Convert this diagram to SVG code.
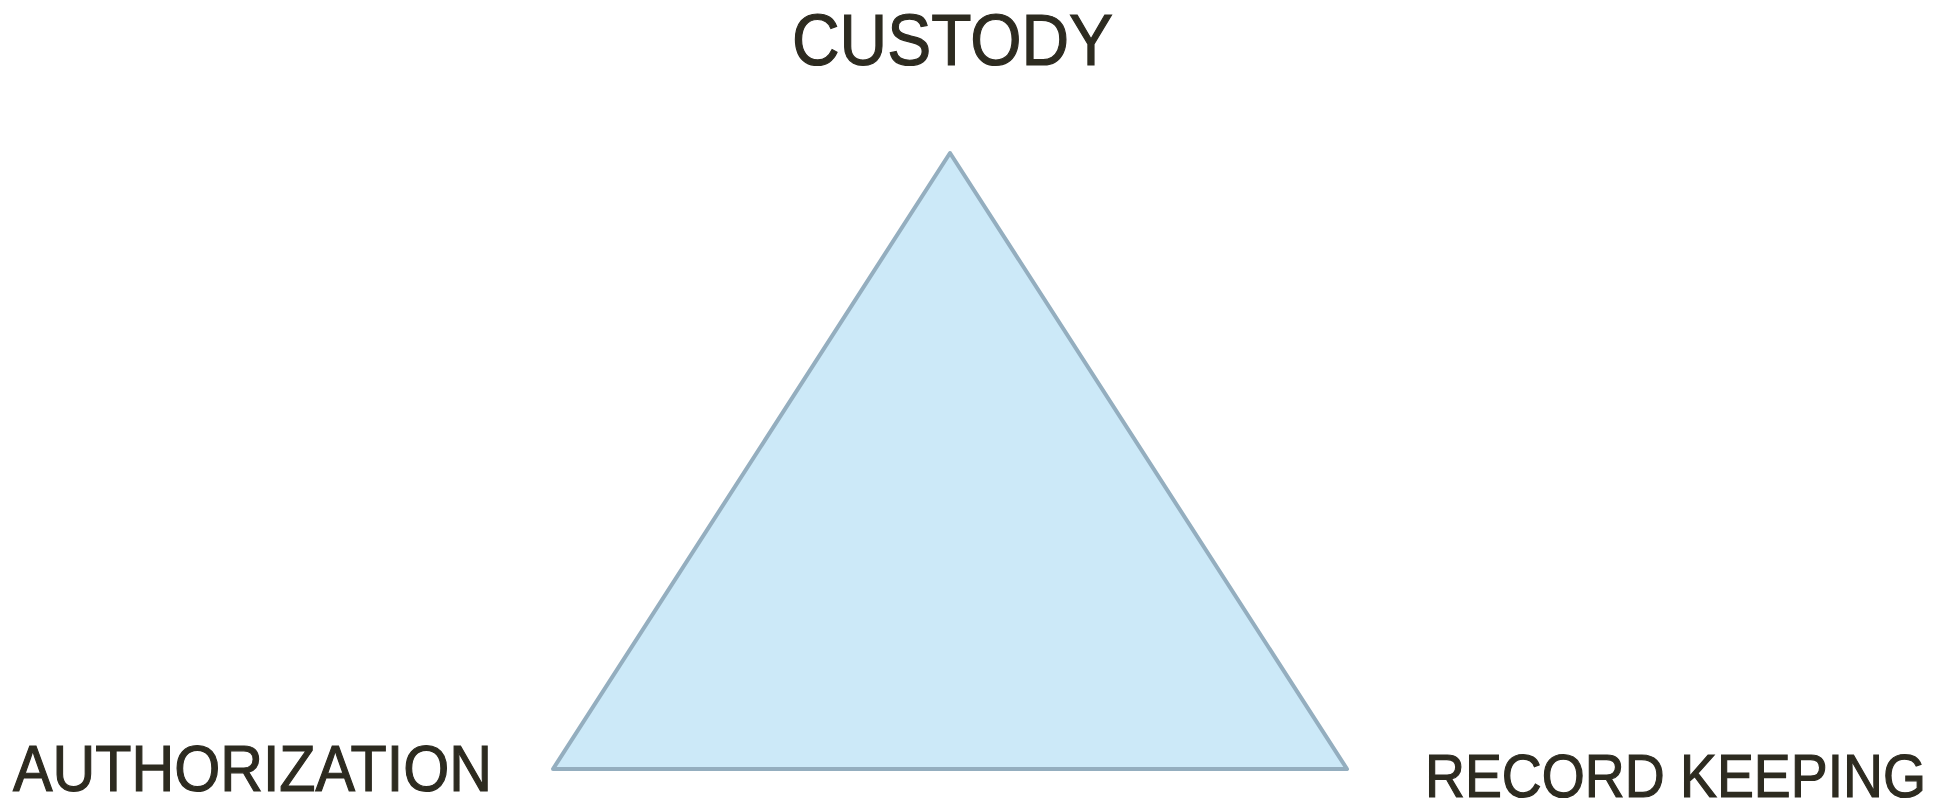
<svg xmlns="http://www.w3.org/2000/svg" width="1948" height="801" viewBox="0 0 1948 801">
<style>
.lbl{font-family:"Liberation Sans","DejaVu Sans",sans-serif;fill:#2d2b20;stroke:#2d2b20;stroke-width:1.2}
.tri{fill:#cce9f8;stroke:#94aebf;stroke-width:4;stroke-linejoin:round}
</style>
<rect width="1948" height="801" fill="#ffffff"/>
<g id="connectors">
<polygon class="tri" points="950,153 1347,769 553,769"/>
</g>
<g id="custody"><text class="lbl" x="792" y="65" font-size="72.6" textLength="321" lengthAdjust="spacingAndGlyphs">CUSTODY</text></g>
<g id="authorization"><text class="lbl" x="13" y="791" font-size="65" textLength="479" lengthAdjust="spacingAndGlyphs">AUTHORIZATION</text></g>
<g id="record-keeping"><text class="lbl" x="1425" y="797" font-size="61" textLength="501" lengthAdjust="spacingAndGlyphs">RECORD KEEPING</text></g>
</svg>
